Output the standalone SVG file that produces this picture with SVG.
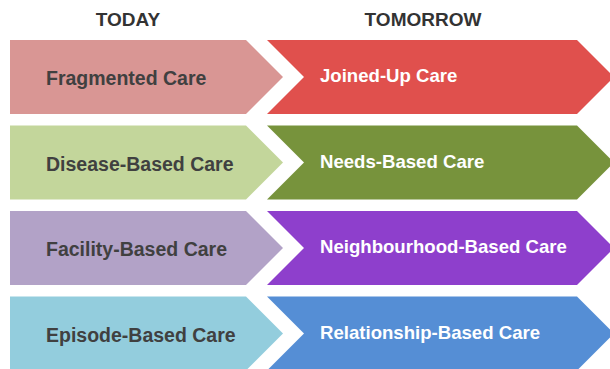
<svg xmlns="http://www.w3.org/2000/svg" width="610" height="369" viewBox="0 0 610 369">
<style>
.hdr{font-family:"Liberation Sans",Arial,sans-serif;font-weight:bold;font-size:19px;fill:#333333;text-anchor:middle}
.lt{font-family:"Liberation Sans",Arial,sans-serif;font-weight:bold;font-size:19.5px;fill:#404040}
.rt{font-family:"Liberation Sans",Arial,sans-serif;font-weight:bold;font-size:18.6px;fill:#ffffff}
</style>
<defs>
<path id="lshape" d="M10,0 H246 L283,37 L246,74 H10 Z"/>
<path id="rshape" d="M267,0 H577 L614,37 L577,74 H267 L304,37 Z"/>
</defs>
<rect width="610" height="369" fill="#ffffff"/>
<g id="headers">
<text class="hdr" x="128" y="26">TODAY</text>
<text class="hdr" x="423" y="26">TOMORROW</text>
</g>
<g id="today-1" transform="translate(0,40)"><use href="#lshape" fill="#D99694"/><text class="lt" x="46" y="45">Fragmented Care</text></g>
<g id="tomorrow-1" transform="translate(0,40)"><use href="#rshape" fill="#E0504D"/><text class="rt" x="320" y="42">Joined-Up Care</text></g>
<g id="today-2" transform="translate(0,125.5)"><use href="#lshape" fill="#C3D69B"/><text class="lt" x="46" y="45">Disease-Based Care</text></g>
<g id="tomorrow-2" transform="translate(0,125.5)"><use href="#rshape" fill="#77933C"/><text class="rt" x="320" y="42">Needs-Based Care</text></g>
<g id="today-3" transform="translate(0,211)"><use href="#lshape" fill="#B2A2C7"/><text class="lt" x="46" y="45">Facility-Based Care</text></g>
<g id="tomorrow-3" transform="translate(0,211)"><use href="#rshape" fill="#8E3FCC"/><text class="rt" x="320" y="42">Neighbourhood-Based Care</text></g>
<g id="today-4" transform="translate(0,296.5)"><use href="#lshape" fill="#93CDDD"/><text class="lt" x="46" y="45">Episode-Based Care</text></g>
<g id="tomorrow-4" transform="translate(0,296.5)"><use href="#rshape" fill="#558ED5"/><text class="rt" x="320" y="42">Relationship-Based Care</text></g>
<g id="connectors"></g>
</svg>
